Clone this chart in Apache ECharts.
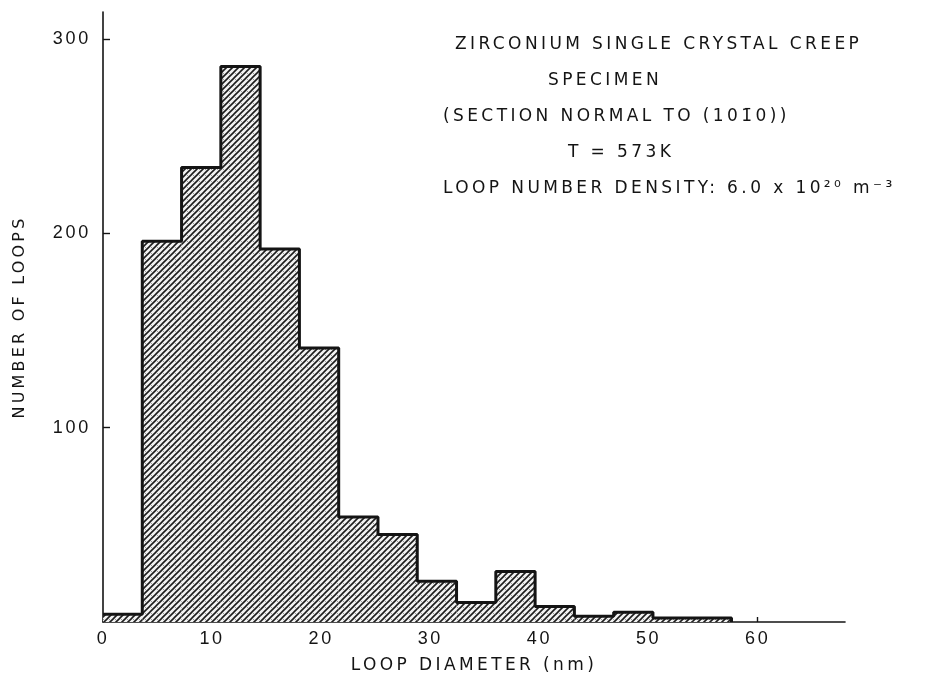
<!DOCTYPE html>
<html><head><meta charset="utf-8">
<script src="https://cdn.jsdelivr.net/npm/echarts@6/dist/echarts.min.js"></script>
<style>html,body{margin:0;padding:0;background:#fff}#c{width:939px;height:681px}</style>
</head><body><div id="c"></div>
<script>
// ---- data ----
const binEdges = [0, 3.6, 7.2, 10.8, 14.4, 18, 21.6, 25.2, 28.8, 32.4, 36, 39.6, 43.2, 46.8, 50.4, 54, 57.6];
const loopCounts = [4, 196, 234, 286, 192, 141, 54, 45, 21, 10, 26, 8, 3, 5, 2, 2];
const xTickValues = [10, 20, 30, 40, 50, 60];
const xLabelValues = [0, 10, 20, 30, 40, 50, 60];
const yTickValues = [100, 200, 300];
const yLabelValues = [100, 200, 300];
const annotationLines = [
  'ZIRCONIUM SINGLE CRYSTAL CREEP',
  'SPECIMEN',
  '(SECTION NORMAL TO (101\u03040))',
  'T = 573K',
  'LOOP NUMBER DENSITY: 6.0 x 10\u00B2\u2070 m\u207B\u00B3'
];
const xAxisName = 'LOOP DIAMETER (nm)';
const yAxisName = 'NUMBER OF LOOPS';

// ---- typewriter-like letter spacing for the chart text ----
(function () {
  const P = CanvasRenderingContext2D.prototype;
  if (!('letterSpacing' in P)) return;
  function spacing(font) {
    const m = /(\d+(?:\.\d+)?)px/.exec(font);
    const size = m ? parseFloat(m[1]) : 12;
    if (/DejaVu/.test(font)) return (size * 0.2).toFixed(2) + 'px';
    return (size * 0.15).toFixed(2) + 'px';
  }
  ['fillText', 'strokeText', 'measureText'].forEach(function (k) {
    const orig = P[k];
    P[k] = function () { this.letterSpacing = spacing(this.font); return orig.apply(this, arguments); };
  });
})();

// ---- hatch pattern ----
function makeHatch() {
  const s = 6;
  const c = document.createElement('canvas');
  c.width = s; c.height = s;
  const g = c.getContext('2d');
  g.fillStyle = '#f2f2f2';
  g.fillRect(0, 0, s, s);
  g.fillStyle = '#9a9a9a';
  g.fillRect(1, 1, 1, 1);
  g.strokeStyle = '#1c1c1c';
  g.lineWidth = 1.6;
  g.beginPath();
  g.moveTo(0, s); g.lineTo(s, 0);
  g.moveTo(-1, 1); g.lineTo(1, -1);
  g.moveTo(s - 1, s + 1); g.lineTo(s + 1, s - 1);
  g.stroke();
  return c;
}
const hatch = { image: makeHatch(), repeat: 'repeat' };

const binData = loopCounts.map((v, i) => [binEdges[i], binEdges[i + 1], v]);
const outlineData = loopCounts.map((v, i) => [binEdges[i], v]);
outlineData.push([binEdges[binEdges.length - 1], 0]);

const textFont = '"DejaVu Sans"';
const labelFont = '"Liberation Sans"';
const ink = '#141414';

const annotationPos = [[455, 45], [548, 81], [443, 117], [568, 153], [443, 189]];

const chart = echarts.init(document.getElementById('c'), null, { renderer: 'canvas' });
chart.setOption({
  animation: false,
  backgroundColor: '#fff',
  grid: { left: 103, right: 94, top: 12, bottom: 59 },
  xAxis: {
    type: 'value', min: 0, max: 68, interval: 10,
    name: xAxisName, nameLocation: 'middle', nameGap: 33,
    nameTextStyle: { fontFamily: textFont, fontSize: 17, color: ink },
    axisLine: { show: true, onZero: false, lineStyle: { color: ink, width: 1.6 } },
    axisTick: { show: true, inside: true, length: 5, customValues: xTickValues, lineStyle: { color: ink, width: 1.4 } },
    axisLabel: { customValues: xLabelValues, margin: 7, fontFamily: labelFont, fontSize: 18, color: ink },
    splitLine: { show: false }
  },
  yAxis: {
    type: 'value', min: 0, max: 314, interval: 100,
    name: yAxisName, nameLocation: 'middle', nameGap: 74,
    nameTextStyle: { fontFamily: textFont, fontSize: 16, color: ink },
    axisLine: { show: true, onZero: false, lineStyle: { color: ink, width: 1.6 } },
    axisTick: { show: true, inside: true, length: 7, customValues: yTickValues, lineStyle: { color: ink, width: 1.4 } },
    axisLabel: { customValues: yLabelValues, margin: 12, fontFamily: labelFont, fontSize: 18, color: ink },
    splitLine: { show: false }
  },
  graphic: annotationLines.map((t, i) => ({
    type: 'text', x: annotationPos[i][0], y: annotationPos[i][1], z: 10,
    style: { text: t, font: '17px ' + textFont, fill: ink, align: 'left', verticalAlign: 'middle' }
  })),
  series: [
    {
      type: 'custom', name: 'bins', data: binData, z: 2,
      encode: { x: [0, 1], y: 2 },
      renderItem: function (params, api) {
        const p0 = api.coord([api.value(0), api.value(2)]);
        const p1 = api.coord([api.value(1), 0]);
        return { type: 'rect', shape: { x: p0[0], y: p0[1], width: p1[0] - p0[0], height: p1[1] - p0[1] }, style: { fill: hatch } };
      }
    },
    {
      type: 'line', name: 'outline', data: outlineData, step: 'end', z: 3,
      showSymbol: false, symbol: 'none',
      lineStyle: { color: ink, width: 3 }
    }
  ]
});
</script>
</body></html>
